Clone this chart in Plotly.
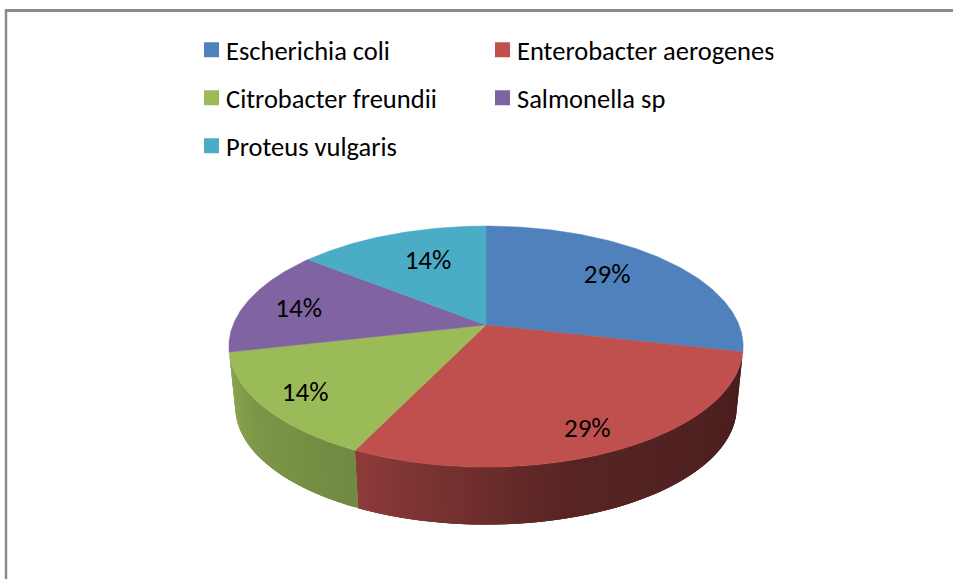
import numpy as np
import plotly.graph_objects as go

# ---- data ----
species = ["Escherichia coli", "Enterobacter aerogenes", "Citrobacter freundii",
           "Salmonella sp", "Proteus vulgaris"]
counts = [2, 2, 1, 1, 1]
percent_labels = ["29%", "29%", "14%", "14%", "14%"]

# ---- style ----
colors = ["#4f81bd", "#c0504d", "#9bbb59", "#8064a2", "#4bacc6"]
wall_shades = {
    1: [(73, 30, 30), (88, 37, 36), (142, 60, 58)],
    2: [(113, 137, 66), (126, 152, 74), (143, 168, 84)],
}
label_radius = [0.703, 0.837, 0.833, 0.774, 0.671]
label_shift_deg = [-3.8, 1.3, -0.4, -1.9, 3.4]
FONT = "Carlito, Lato, sans-serif"
FS = 26.5
LABEL_FS = 27
W, H = 953, 579

# ---- perspective pie projection (angle clockwise from 12 o'clock) ----
CX, CY, A, B, K = 486.0, 325.0, 253.0, 116.7, 0.179
DROP, SHRINK = 61.0, 0.975


def project(theta_deg, r=1.0, floor=False):
    t = np.radians(theta_deg)
    u, v = r * np.sin(t), r * np.cos(t)
    w = 1 + K * v
    s = SHRINK if floor else 1.0
    return CX + s * A * u / w, CY + (DROP if floor else 0) - s * B * v / w


total = sum(counts)
edges = np.concatenate([[0], np.cumsum(counts)]) * 360.0 / total

fig = go.Figure()

# side walls (only those facing the viewer); each strip overlaps the next to avoid seams
STEP = 1.0
for i in range(len(counts)):
    a, b = edges[i], edges[i + 1]
    if a < 90 or b > 270:
        continue
    shades = wall_shades[i]
    for s0 in np.arange(a, b, STEP):
        s1 = min(s0 + 3 * STEP, b)
        ang = np.linspace(s0, s1, 4)
        xt, yt = project(ang)
        xb, yb = project(ang[::-1], floor=True)
        f = (s0 + STEP / 2 - a) / (b - a)
        rgb = [np.interp(f, [0, 0.6, 1], [c[j] for c in shades]) for j in range(3)]
        col = "rgb(%d,%d,%d)" % tuple(rgb)
        fig.add_trace(go.Scatter(
            x=np.r_[xt, xb], y=np.r_[yt, yb], mode="lines", fill="toself",
            fillcolor=col, line=dict(width=0), hoverinfo="skip", showlegend=False))

# top face wedges
for i, name in enumerate(species):
    ang = np.linspace(edges[i], edges[i + 1], 120)
    xr, yr = project(ang)
    fig.add_trace(go.Scatter(
        x=np.r_[CX, xr, CX], y=np.r_[CY, yr, CY], mode="lines", fill="toself",
        fillcolor=colors[i], line=dict(color=colors[i], width=0.5),
        name=name, text=percent_labels[i], hoverinfo="name+text", showlegend=False))

# percentage labels
mids = (edges[:-1] + edges[1:]) / 2 + np.array(label_shift_deg)
lx, ly = project(mids, np.array(label_radius))
fig.add_trace(go.Scatter(
    x=lx, y=ly + 2, mode="text", text=percent_labels, textposition="middle center",
    textfont=dict(family=FONT, size=LABEL_FS, color="#000000"),
    hoverinfo="skip", showlegend=False))

# legend, three rows of a two-column block
legend_rows = ["legend", "legend", "legend2", "legend2", "legend3"]
for i, name in enumerate(species):
    fig.add_trace(go.Scatter(
        x=[None], y=[None], mode="markers", name=name, legend=legend_rows[i],
        marker=dict(symbol="square", size=15, color=colors[i])))


def legend_cfg(ypx):
    return dict(
        orientation="h", x=191.5 / W, xanchor="left", y=1 - ypx / H, yanchor="middle",
        entrywidth=246, entrywidthmode="pixels", bgcolor="rgba(0,0,0,0)",
        borderwidth=0, font=dict(family=FONT, size=FS, color="#000000"),
        itemclick=False, itemdoubleclick=False)


fig.update_layout(
    width=W, height=H, margin=dict(l=0, r=0, t=0, b=0),
    paper_bgcolor="#ffffff", plot_bgcolor="#ffffff",
    xaxis=dict(range=[0, W], visible=False, fixedrange=True),
    yaxis=dict(range=[H, 0], visible=False, fixedrange=True),
    legend=legend_cfg(50), legend2=legend_cfg(98), legend3=legend_cfg(146),
    shapes=[
        dict(type="line", xref="x", yref="y", x0=6, x1=6, y0=10, y1=H,
             line=dict(color="#8c8c8c", width=2.5)),
        dict(type="line", xref="x", yref="y", x0=5, x1=W, y0=10.5, y1=10.5,
             line=dict(color="#8c8c8c", width=3)),
    ],
)

post = """
document.body.style.margin = '0';
function nudgeLegendText() {
  document.querySelectorAll('.legendtext, .legend2text, .legend3text').forEach(function (t) {
    t.setAttribute('x', 34.5);
  });
}
nudgeLegendText();
document.getElementById('{plot_id}').on('plotly_afterplot', nudgeLegendText);
[0, 50, 200, 500, 1000].forEach(function (d) { setTimeout(nudgeLegendText, d); });
"""
fig.write_html("out.html", post_script=post, config=dict(displayModeBar=False))
